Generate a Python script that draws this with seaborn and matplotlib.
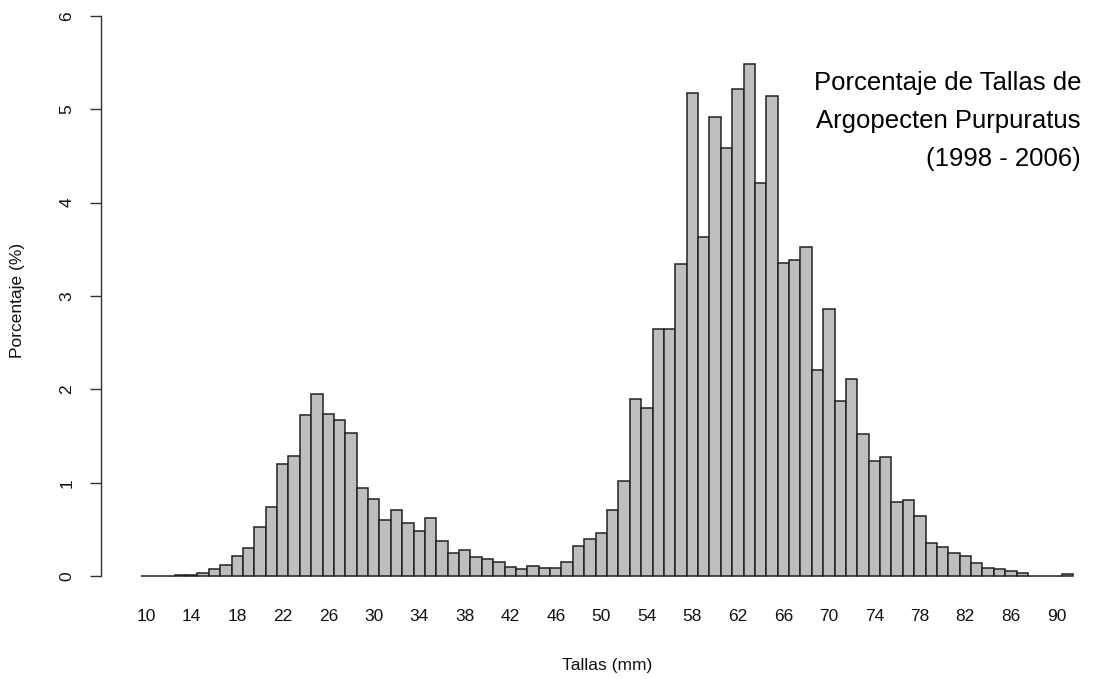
import matplotlib
matplotlib.use("Agg")
import matplotlib.pyplot as plt
import seaborn as sns
import pandas as pd

# ---- data ----
tallas = list(range(10, 92))
porcentaje = [
    0.003, 0.003, 0.004, 0.008, 0.015, 0.037, 0.07, 0.116, 0.21, 0.30,   # 10-19
    0.52, 0.74, 1.20, 1.29, 1.72, 1.95, 1.74, 1.67, 1.53, 0.94,          # 20-29
    0.83, 0.60, 0.71, 0.57, 0.48, 0.62, 0.37, 0.25, 0.28, 0.20,          # 30-39
    0.18, 0.15, 0.10, 0.07, 0.11, 0.09, 0.09, 0.15, 0.32, 0.40,          # 40-49
    0.46, 0.71, 1.02, 1.90, 1.80, 2.65, 2.65, 3.34, 5.18, 3.63,          # 50-59
    4.92, 4.59, 5.22, 5.49, 4.21, 5.14, 3.35, 3.39, 3.53, 2.21,          # 60-69
    2.86, 1.87, 2.11, 1.52, 1.23, 1.27, 0.79, 0.81, 0.64, 0.35,          # 70-79
    0.31, 0.25, 0.21, 0.14, 0.09, 0.07, 0.05, 0.035, 0.005, 0.005,       # 80-89
    0.004, 0.02,                                                         # 90-91
]
xtick_vals = list(range(10, 91, 4))
yticks = [0, 1, 2, 3, 4, 5, 6]
title_lines = ["Porcentaje de Tallas de", "Argopecten Purpuratus", "(1998 - 2006)"]
xlabel = "Tallas (mm)"
ylabel = "Porcentaje (%)"

df = pd.DataFrame({"talla": tallas, "pct": porcentaje})

sns.set_style("white")
plt.rcParams["font.family"] = ["Liberation Sans", "DejaVu Sans"]

W, H = 1117, 679
fig = plt.figure(figsize=(W / 100, H / 100), dpi=100)
ax_left, ax_right = 101, 1113
ax_top, ax_bottom = 16, 576
ax = fig.add_axes([ax_left / W, (H - ax_bottom) / H,
                   (ax_right - ax_left) / W, (ax_bottom - ax_top) / H])

sns.barplot(data=df, x="talla", y="pct", native_scale=True, width=1,
            color="#BEBEBE", saturation=1, edgecolor="#222222",
            linewidth=1.1, errorbar=None, ax=ax)
for p in ax.patches:
    p.set_clip_on(False)

ax.set_xlim(6.02, 94.98)
ax.set_ylim(0, 6)

for s in ["top", "right", "bottom"]:
    ax.spines[s].set_visible(False)
ax.spines["left"].set_bounds(0, 6)
ax.spines["left"].set_color("#333333")
ax.spines["left"].set_linewidth(1.0)

ax.set_xticks(xtick_vals)
ax.set_xticklabels([str(v) for v in xtick_vals], fontsize=12.5, color="#111111")
ax.tick_params(axis="x", length=0, pad=24)

ax.set_yticks(yticks)
ax.set_yticklabels([str(v) for v in yticks], fontsize=12.5, rotation=90,
                   va="center", color="#111111")
ax.tick_params(axis="y", length=8, width=1.0, color="#333333", pad=11,
               left=True)

ax.set_xlabel(xlabel, fontsize=12.5, labelpad=24, color="#111111")
ax.set_ylabel("")
fig.text(18 / W, 1 - 300 / H, ylabel, rotation=90, ha="center", va="center",
         fontsize=12.5, color="#111111")

fig.text(1081 / W, 1 - 166 / H, "\n".join(title_lines), ha="right",
         va="baseline", multialignment="right", fontsize=18.5,
         linespacing=1.73, color="#000000")

ax.grid(False)
fig.savefig("out.png", dpi=100)
